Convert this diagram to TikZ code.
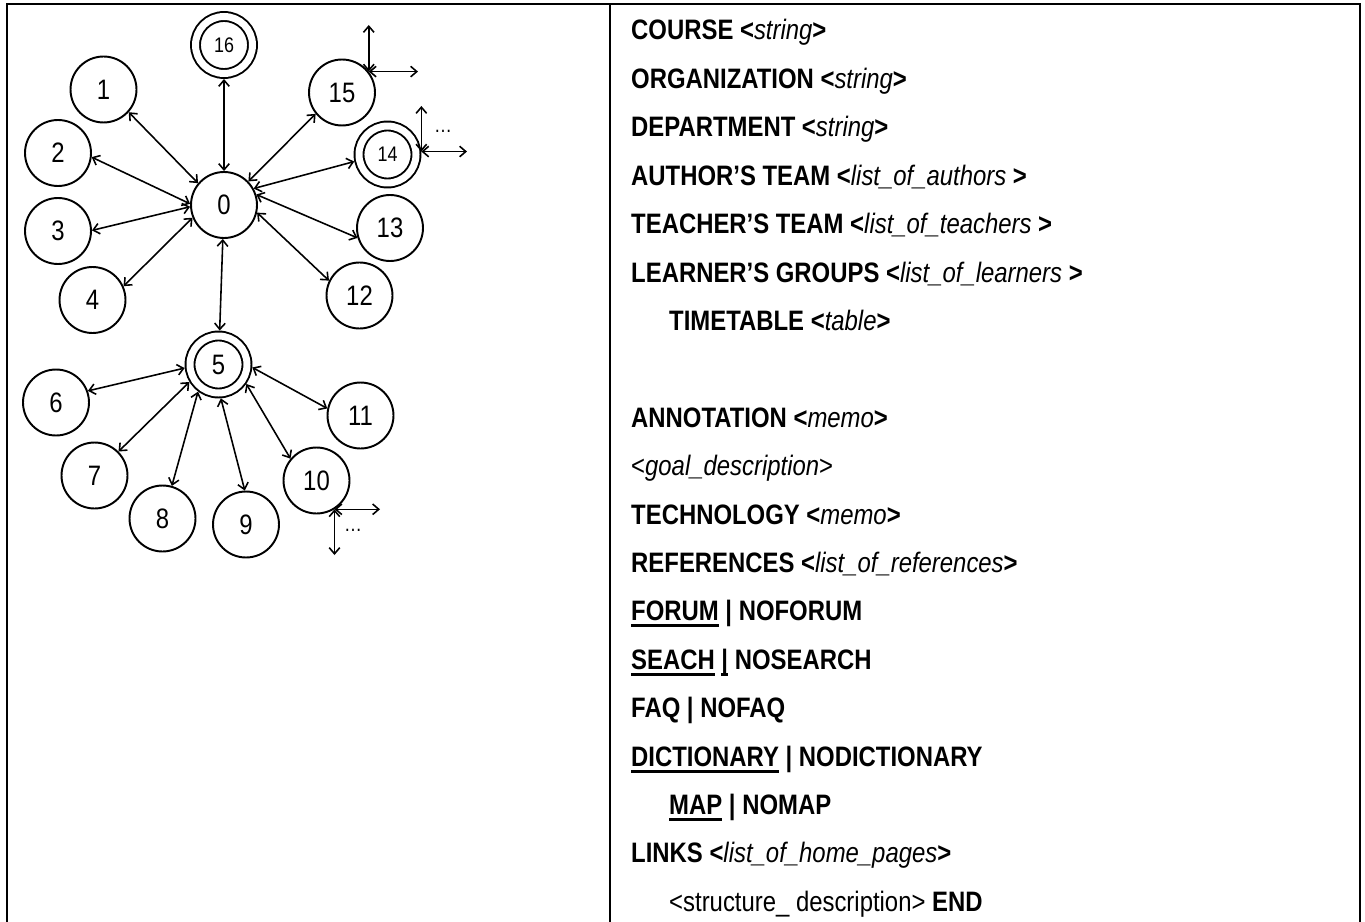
\documentclass[tikz,border=0pt]{standalone}
\usepackage{fontspec}
\setmainfont{Liberation Sans}[FakeStretch=0.85]
\usepackage{tikz}
\usetikzlibrary{arrows.meta}
\newcommand{\uln}[1]{\setbox0\hbox{#1}\rlap{\rule[-3.8pt]{\wd0}{1.8pt}}\box0\relax}

\begin{document}
\begin{tikzpicture}[x=0.02cm, y=-0.02cm, >={Straight Barb[length=3.5pt,width=6pt]},
  font=\fontsize{16}{19}\selectfont,
  state/.style={draw, circle, line width=1.1pt, minimum size=1.32cm, inner sep=0pt},
  accept/.style={draw, circle, double, double distance=0.14cm, line width=1.1pt, minimum size=1.14cm, inner sep=0pt, outer sep=0.11cm},
  link/.style={<->, line width=0.9pt},
  line/.style={anchor=base west},
  grid/.style={line width=1.4pt}]
  \useasboundingbox (0,0) rectangle (1365,922);
  \draw[grid] (7,922) -- (7,4) -- (1360,4) -- (1360,922);
  \draw[grid] (610,4) -- (610,922);

  \node[state] (n0) at (224,205) {0};
  \node[state] (n1) at (103.5,89.5) {1};
  \node[state] (n2) at (58,153) {2};
  \node[state] (n3) at (58,231) {3};
  \node[state] (n4) at (92.5,300) {4};
  \node[accept] (n5) at (218.5,364.5) {5};
  \node[state] (n6) at (56,402.5) {6};
  \node[state] (n7) at (94.5,475.5) {7};
  \node[state] (n8) at (162.5,518.5) {8};
  \node[state] (n9) at (246,524.5) {9};
  \node[state] (n10) at (316.5,480.5) {10};
  \node[state] (n11) at (360.5,415.5) {11};
  \node[state] (n12) at (359.5,295.5) {12};
  \node[state] (n13) at (390,228) {13};
  \node[accept, font=\fontsize{12}{14}\selectfont] (n14) at (387.5,154.5) {14};
  \node[state] (n15) at (342,92.5) {15};
  \node[accept, font=\fontsize{12}{14}\selectfont] (n16) at (224,45) {16};

  \draw[link] (n1.318) -- (n0.140);
  \draw[link] (n2.353) -- (n0.178);
  \draw[link] (n3.1) -- (n0.183);
  \draw[link] (n4.24) -- (n0.202);
  \draw[link] (n16) -- (n0);
  \draw[link] (n15.219) -- (n0.44);
  \draw[link] (n14.192) -- (n0.29);
  \draw[link] (n13.197) -- (n0.18);
  \draw[link] (n12.154) -- (n0.347);
  \draw[link] (n0) -- (n5);
  \draw[link] (n6.20) -- (n5.186);
  \draw[link] (n7.45) -- (n5.211);
  \draw[link] (n8.74) -- (n5.233);
  \draw[link] (n9.92) -- (n5.274);
  \draw[link] (n10.140) -- (n5.325);
  \draw[link] (n11.168) -- (n5.355);

  \draw[link] (n15.38) -- (n15.38 |- 0,25);
  \draw[link] (n15.38) -- (n15.38 -| 418,0);
  \draw[link] (n14.5) -- (n14.5 |- 0,106);
  \draw[link] (n14.5) -- (n14.5 -| 467,0);
  \node[font=\fontsize{12}{14}\selectfont] (d14) at (443,131) {…};
  \draw[link] (n10.302) -- (n10.302 |- 0,555);
  \draw[link] (n10.302) -- (n10.302 -| 380,0);
  \node[font=\fontsize{12}{14}\selectfont] (d10) at (353,530) {…};

  \node[line] (course) at (625,40) {\textbf{COURSE <}\textit{string}\textbf{>}};
  \node[line] (organization) at (625,88.4) {\textbf{ORGANIZATION <}\textit{string}\textbf{>}};
  \node[line] (department) at (625,136.8) {\textbf{DEPARTMENT <}\textit{string}\textbf{>}};
  \node[line] (authors) at (625,185.2) {\textbf{AUTHOR’S TEAM <}\textit{list\_of\_authors }\textbf{>}};
  \node[line] (teachers) at (625,233.6) {\textbf{TEACHER’S TEAM <}\textit{list\_of\_teachers }\textbf{>}};
  \node[line] (learners) at (625,282) {\textbf{LEARNER’S GROUPS <}\textit{list\_of\_learners }\textbf{>}};
  \node[line] (timetable) at (663,330.4) {\textbf{TIMETABLE <}\textit{table}\textbf{>}};
  \node[line] (annotation) at (625,427.2) {\textbf{ANNOTATION <}\textit{memo}\textbf{>}};
  \node[line] (goal) at (625,475.6) {<\textit{goal\_description}>};
  \node[line] (technology) at (625,524) {\textbf{TECHNOLOGY <}\textit{memo}\textbf{>}};
  \node[line] (references) at (625,572.4) {\textbf{REFERENCES <}\textit{list\_of\_references}\textbf{>}};
  \node[line] (forum) at (625,620.8) {\textbf{\uln{FORUM} | NOFORUM}};
  \node[line] (search) at (625,669.2) {\textbf{\uln{SEACH} \uln{|} NOSEARCH}};
  \node[line] (faq) at (625,717.6) {\textbf{FAQ | NOFAQ}};
  \node[line] (dictionary) at (625,766) {\textbf{\uln{DICTIONARY} | NODICTIONARY}};
  \node[line] (map) at (663,814.4) {\textbf{\uln{MAP} | NOMAP}};
  \node[line] (links) at (625,862.8) {\textbf{LINKS <}\textit{list\_of\_home\_pages}\textbf{>}};
  \node[line] (structure) at (663,911.2) {<structure\_ description> \textbf{END}};
\end{tikzpicture}
\end{document}
